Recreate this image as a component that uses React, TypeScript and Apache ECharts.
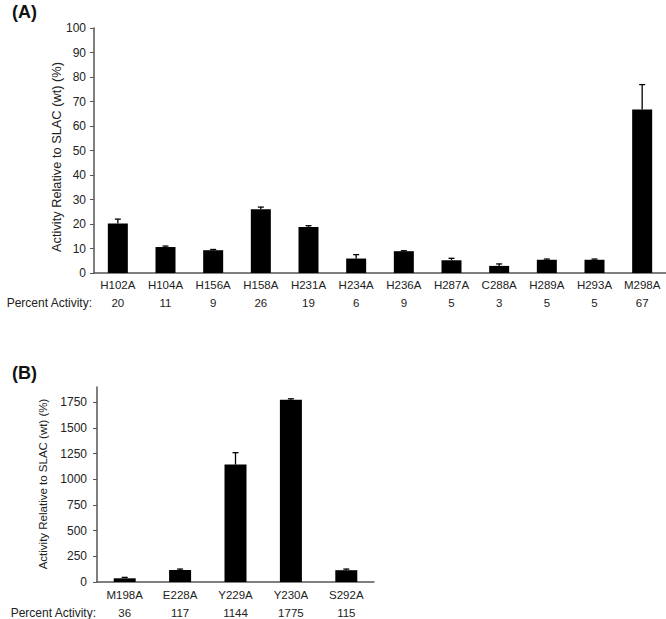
import React, { useEffect, useRef } from "react";
import * as echarts from "echarts";

// Panel A data
const catsA = ["H102A", "H104A", "H156A", "H158A", "H231A", "H234A", "H236A", "H287A", "C288A", "H289A", "H293A", "M298A"];
const valsA = [20.2, 10.6, 9.3, 26.0, 18.8, 5.9, 8.9, 5.2, 2.9, 5.4, 5.4, 66.7];
const errTopA = [22.0, 11.0, 9.6, 26.9, 19.3, 7.5, 9.1, 6.0, 3.7, 5.7, 5.7, 76.9];
const pctA = ["20", "11", "9", "26", "19", "6", "9", "5", "3", "5", "5", "67"];

// Panel B data
const catsB = ["M198A", "E228A", "Y229A", "Y230A", "S292A"];
const valsB = [36, 117, 1144, 1775, 115];
const errTopB = [45, 126, 1260, 1785, 126];
const pctB = ["36", "117", "1144", "1775", "115"];
const ticksB = [0, 250, 500, 750, 1000, 1250, 1500, 1750];

const FONT = "Liberation Sans, Arial, sans-serif";
const TXT = "#222";
const AXIS = "#555";

function errorRender(params: any, api: any) {
  const x = api.value(0);
  const v = api.value(1);
  const e = api.value(2);
  const top = api.coord([x, e]);
  const base = api.coord([x, v]);
  const style = { stroke: "#000", lineWidth: 1.3 };
  return {
    type: "group",
    children: [
      { type: "line", shape: { x1: top[0], y1: top[1], x2: base[0], y2: base[1] }, style },
      { type: "line", shape: { x1: top[0] - 3, y1: top[1], x2: top[0] + 3, y2: top[1] }, style },
    ],
  };
}

export default function App() {
  const ref = useRef<HTMLDivElement>(null);
  useEffect(() => {
    if (!ref.current) return;
    const chart = echarts.init(ref.current, null, { renderer: "svg" });
    const labelFmt = (pct: string[], cats: string[]) => (value: string) =>
      `{c|${value}}\n{p|${pct[cats.indexOf(value)]}}`;
    const rich = {
      c: { fontSize: 11.5, lineHeight: 18, color: TXT, fontFamily: FONT },
      p: { fontSize: 11.5, lineHeight: 18, color: TXT, fontFamily: FONT },
    };
    const plain = (v: number) => String(v);
    chart.setOption({
      animation: false,
      backgroundColor: "#fff",
      textStyle: { fontFamily: FONT },
      grid: [
        { left: 94, top: 28, width: 572, height: 245 },
        { left: 97, top: 387, width: 277, height: 195 },
      ],
      xAxis: [
        {
          type: "category",
          gridIndex: 0,
          data: catsA,
          axisLine: { lineStyle: { color: AXIS, width: 1.5 } },
          axisTick: { show: false },
          axisLabel: { interval: 0, margin: 3, formatter: labelFmt(pctA, catsA), rich },
        },
        {
          type: "category",
          gridIndex: 1,
          data: catsB,
          axisLine: { lineStyle: { color: AXIS, width: 1.5 } },
          axisTick: { show: false },
          axisLabel: { interval: 0, margin: 4, formatter: labelFmt(pctB, catsB), rich },
        },
      ],
      yAxis: [
        {
          type: "value",
          gridIndex: 0,
          min: 0,
          max: 100,
          interval: 10,
          splitLine: { show: false },
          axisLine: { show: true, lineStyle: { color: AXIS, width: 1.5 } },
          axisTick: { show: true, length: 4, lineStyle: { color: AXIS } },
          axisLabel: { fontSize: 12, color: TXT, margin: 8, fontFamily: FONT, formatter: plain },
        },
        {
          type: "value",
          gridIndex: 1,
          min: 0,
          max: 1900,
          interval: 250,
          splitLine: { show: false },
          axisLine: { show: true, lineStyle: { color: AXIS, width: 1.5 } },
          axisTick: { show: true, length: 4, lineStyle: { color: AXIS }, customValues: ticksB },
          axisLabel: { fontSize: 12, color: TXT, margin: 10, fontFamily: FONT, customValues: ticksB, formatter: plain },
        },
      ],
      series: [
        {
          type: "bar",
          xAxisIndex: 0,
          yAxisIndex: 0,
          data: valsA,
          barWidth: 20,
          itemStyle: { color: "#000" },
        },
        {
          type: "custom",
          xAxisIndex: 0,
          yAxisIndex: 0,
          renderItem: errorRender,
          encode: { x: 0, y: [1, 2] },
          data: catsA.map((_, i) => [i, valsA[i], errTopA[i]]),
          z: 5,
        },
        {
          type: "bar",
          xAxisIndex: 1,
          yAxisIndex: 1,
          data: valsB,
          barWidth: 22,
          itemStyle: { color: "#000" },
        },
        {
          type: "custom",
          xAxisIndex: 1,
          yAxisIndex: 1,
          renderItem: errorRender,
          encode: { x: 0, y: [1, 2] },
          data: catsB.map((_, i) => [i, valsB[i], errTopB[i]]),
          z: 5,
        },
      ],
      graphic: [
        { type: "text", left: 12, top: 3, style: { text: "(A)", font: `bold 18px ${FONT}`, fill: "#111" } },
        { type: "text", left: 12, top: 364, style: { text: "(B)", font: `bold 18px ${FONT}`, fill: "#111" } },
        {
          type: "text",
          x: 56,
          y: 157,
          rotation: Math.PI / 2,
          style: { text: "Activity Relative to SLAC (wt) (%)", font: `12.8px ${FONT}`, fill: TXT, align: "center", verticalAlign: "middle" },
        },
        {
          type: "text",
          x: 43,
          y: 484,
          rotation: Math.PI / 2,
          style: { text: "Activity Relative to SLAC (wt) (%)", font: `11.5px ${FONT}`, fill: TXT, align: "center", verticalAlign: "middle" },
        },
        {
          type: "text",
          x: 92,
          y: 303,
          style: { text: "Percent Activity:", font: `12px ${FONT}`, fill: TXT, align: "right", verticalAlign: "middle" },
        },
        {
          type: "text",
          x: 96,
          y: 613,
          style: { text: "Percent Activity:", font: `12px ${FONT}`, fill: TXT, align: "right", verticalAlign: "middle" },
        },
      ],
    });
    return () => chart.dispose();
  }, []);
  return <div ref={ref} style={{ position: "fixed", left: 0, top: 0, width: 666, height: 619 }} />;
}
